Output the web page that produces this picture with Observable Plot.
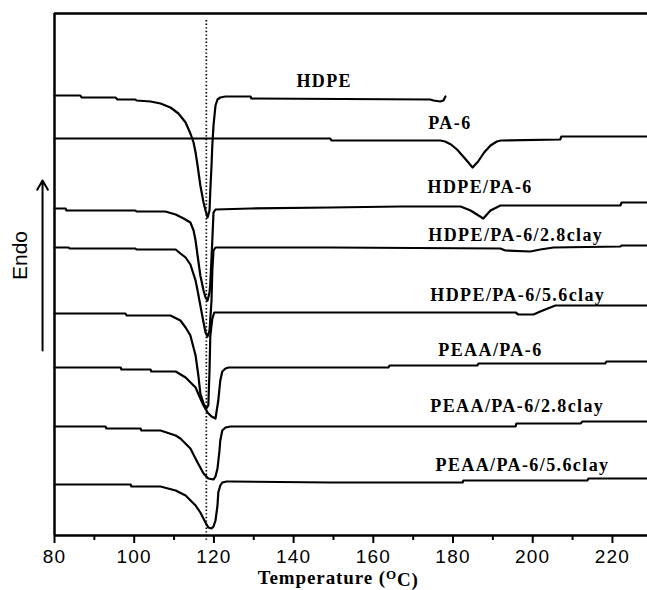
<!DOCTYPE html>
<html><head><meta charset="utf-8">
<script src="https://cdn.jsdelivr.net/npm/d3@7"></script>
<script src="https://cdn.jsdelivr.net/npm/@observablehq/plot@0.6"></script>
<style>body{margin:0;background:#fff}</style>
</head><body><div id="chart"></div>
<script>
// DSC cooling traces, signal in arbitrary units (larger = lower on the page; endo up)
const seriesNames = ["HDPE","PA-6","HDPE/PA-6","HDPE/PA-6/2.8clay","HDPE/PA-6/5.6clay","PEAA/PA-6","PEAA/PA-6/2.8clay","PEAA/PA-6/5.6clay"];

const hdpeT = [80,86.5,86.8,95.3,95.8,100.3,100.6,104.1,106.6,109.1,111.1,112.9,114.1,114.9,115.4,115.9,116.6,117.4,117.9,118.4,118.9,119.1,119.4,119.6,119.9,120.4,120.9,121.6,122.9,129.2,129.4,174.3,175.1,176.8,177.6,178.1];
const hdpeS = [95,95,97,97,99,99,100,101,103,107,113,122,133,142,152,165,185,202,210,217,210,190,165,145,125,105,99,97,96,96,98,99,100,101,100,96];

const pa6T = [80,149.2,149.5,176.8,178,179.5,181,183,184.9,186.3,187.8,189.4,191,192,206.9,207.2,228.8];
const pa6S = [138,138,140,140,141,144,149,158,167,161,152,145,141,140,139,136,136];

const blendT = [80,82.8,83,100.3,100.6,107.8,110.4,112.4,114.1,114.9,115.4,115.9,116.6,117.4,117.9,118.4,118.9,119.1,119.6,119.9,120.4,129.2,149.2,166.8,181.9,184.4,187.6,189.4,190.9,191.9,222,222.3,228.8];
const blendS = [208,208,210,210,211,211,214,218,222,230,240,255,275,290,297,300,292,283,240,212,209,208,207,206,206,210,218,210,207,205,205,202,202];

const blend28T = [80,83.5,83.8,100.3,100.6,110.4,111.6,112.9,114.1,115.4,115.9,116.6,117.4,117.9,118.4,118.9,119.4,119.6,119.9,120.4,149.2,191.9,193.1,199.4,201.9,205.2,222,222.3,228.8];
const blend28S = [247,247,248,248,249,249,253,257,264,280,290,305,322,332,336,330,300,270,250,247,247,248,250,251,249,247,246,245,245];

const blend56T = [80,97.8,98.1,109.1,111.6,112.9,114.1,115.4,116.1,116.6,117.4,118.1,118.6,118.9,119.1,119.6,120.1,195.7,196.4,200.2,201.9,204.4,205.7,228.8];
const blend56S = [313,313,315,315,320,327,335,355,375,393,403,408,405,370,335,318,312,312,314,314,311,307,305,305];

const peaaT = [80,96.6,96.8,104.1,104.3,110.4,112.9,115.4,116.6,117.4,118.4,119.4,120.4,121.1,121.6,122.1,122.9,123.7,163.8,164.1,186.1,186.4,218.2,218.5,228.8];
const peaaS = [367,367,369,369,371,371,377,387,398,405,412,416,418,400,380,371,368,367,367,365,365,363,363,361,361];

const peaa28T = [80,92.8,93,101.6,101.8,106.6,110.4,111.6,114.1,115.9,117.4,118.6,119.9,120.4,120.9,121.4,121.6,122.1,122.9,124.2,195.7,195.9,212,212.5,228.8];
const peaa28S = [426,426,428,428,430,430,435,438,448,462,473,478,479,476,468,450,440,430,427,426,426,423,423,421,421];

const peaa56T = [80,99.1,99.3,106.6,110.4,112.9,115.4,116.6,117.9,118.6,119.4,119.9,120.4,120.9,121.1,121.6,122.1,123.2,124.2,149.2,182.4,182.6,213.7,214,228.8];
const peaa56S = [484,484,486,486,490,495,505,512,522,527,528,526,520,505,492,485,482,481,481,482,482,480,480,478,478];

const xTicks = [80,100,120,140,160,180,200,220];
const xMinorTicks = [90,110,130,150,170,190,210];
const xDomain = [80, 228.8];
const sDomain = [13, 535];
const refTemp = 118.1;

const labelText = ["HDPE","PA-6","HDPE/PA-6","HDPE/PA-6/2.8clay","HDPE/PA-6/5.6clay","PEAA/PA-6","PEAA/PA-6/2.8clay","PEAA/PA-6/5.6clay"];
const labelT = [140.7,173.8,173.6,173.8,174.3,176.3,174.3,175.6];
const labelS = [81,123,187,235,295,350,406,465];
const xTitle = "Temperature (OC)";

const allT = [hdpeT,pa6T,blendT,blend28T,blend56T,peaaT,peaa28T,peaa56T];
const allS = [hdpeS,pa6S,blendS,blend28S,blend56S,peaaS,peaa28S,peaa56S];
const rows = [];
seriesNames.forEach((name,i) => allT[i].forEach((t,j) => rows.push({series:name, t, s: allS[i][j]})));
const labels = labelText.map((text,i) => ({text, t: labelT[i], s: labelS[i]}));

const chart = Plot.plot({
  width: 647, height: 590,
  marginLeft: 54, marginRight: 0, marginTop: 13, marginBottom: 55,
  x: {domain: xDomain},
  y: {domain: sDomain, reverse: true, axis: null},
  style: {background: "#fff", color: "#000"},
  marks: [
    Plot.ruleX([refTemp], {y1: 20, y2: 541, stroke: "#000", strokeWidth: 1.7, strokeDasharray: "1.4,2.2"}),
    Plot.line(rows, {x: "t", y: "s", z: "series", stroke: "#000", strokeWidth: 2.2}),
    Plot.ruleY([sDomain[0]], {stroke: "#000", strokeWidth: 2.5}),
    Plot.ruleY([sDomain[1]], {stroke: "#000", strokeWidth: 2.5}),
    Plot.ruleX([xDomain[0]], {stroke: "#000", strokeWidth: 2.5}),
    Plot.axisX(xTicks, {tickSize: 8, tickPadding: 6, fontSize: 19, strokeWidth: 2, label: null, fontFamily: "Liberation Sans"}),
    Plot.axisX(xMinorTicks, {tickSize: 5, tickFormat: () => "", strokeWidth: 2, label: null}),
    Plot.text(labels, {x: "t", y: "s", text: "text", textAnchor: "start", fontSize: 18, fontWeight: "bold", fontFamily: "Liberation Serif", fill: "#000"}),
    Plot.text([xTitle], {x: 151.2, y: 577, textAnchor: "middle", fontSize: 19, fontFamily: "Liberation Serif", fontWeight: "bold", fill: "#000", ariaLabel: "x-title"}),
    Plot.text(["Endo"], {x: 71.5, y: 255, rotate: -90, fontSize: 21, fontFamily: "Liberation Sans", fill: "#000"}),
    Plot.arrow([0], {x1: 77, x2: 77, y1: 350, y2: 180, stroke: "#000", strokeWidth: 2, headLength: 8})
  ]
});
document.getElementById("chart").appendChild(chart);
const svg = d3.select(chart);
// curve labels: slightly spaced like the original
svg.selectAll("g[aria-label='text'] text").filter(function(){ return labelText.includes(this.textContent); })
  .style("letter-spacing", "1.4px");
svg.selectAll("g[aria-label='x-axis tick label'] text").style("letter-spacing", "1.2px");
// axis title with superscript O
svg.selectAll("text").filter(function(){ return this.textContent === xTitle; }).each(function(){
  const t = d3.select(this).style("letter-spacing", "0.9px");
  t.text(null);
  t.append("tspan").text("Temperature (");
  t.append("tspan").attr("dy", "-0.38em").attr("font-size", 13).text("O");
  t.append("tspan").attr("dy", "0.38em").text("C)");
});
</script></body></html>
